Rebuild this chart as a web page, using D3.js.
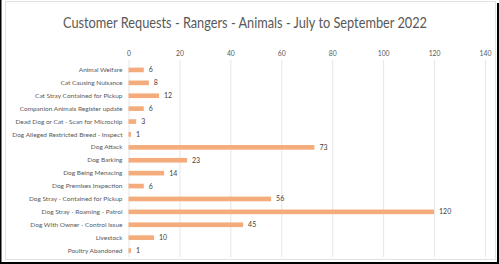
<!DOCTYPE html>
<html lang="en">
<head>
  <meta charset="utf-8">
  <title>Customer Requests - Rangers - Animals</title>
  <style>
    body { margin: 0; background: #fff; }
    svg { display: block; font-family: Lato, "Open Sans", sans-serif; }
  </style>
</head>
<body>
  <script src="https://cdnjs.cloudflare.com/ajax/libs/d3/7.8.5/d3.min.js"></script>
  <script type="text/javascript">
  const categories = [
    "Animal Welfare",
    "Cat Causing Nuisance",
    "Cat Stray Contained for Pickup",
    "Companion Animals Register update",
    "Dead Dog or Cat - Scan for Microchip",
    "Dog Alleged Restricted Breed - Inspect",
    "Dog Attack",
    "Dog Barking",
    "Dog Being Menacing",
    "Dog Premises Inspection",
    "Dog Stray - Contained for Pickup",
    "Dog Stray - Roaming - Patrol",
    "Dog With Owner - Control Issue",
    "Livestock",
    "Poultry Abandoned"
  ];
  const requests = [6, 8, 12, 6, 3, 1, 73, 23, 14, 6, 56, 120, 45, 10, 1];
  const xTicks = [0, 20, 40, 60, 80, 100, 120, 140];

  const W = 499, H = 264;
  const margin = { top: 63.5, right: 14, bottom: 7, left: 128.5 };

  const svg = d3.select("body")
    .append("svg")
    .attr("width", W)
    .attr("height", H);

  // outer frame
  svg.append("rect")
    .attr("x", 0).attr("y", 0)
    .attr("width", W).attr("height", H)
    .attr("fill", "#fff");
  svg.append("rect")
    .attr("x", 5.5).attr("y", 1.5)
    .attr("width", 490).attr("height", 258)
    .attr("fill", "none")
    .attr("stroke", "#e2e2e2");
  svg.append("path")
    .attr("d", `M0.5,0 V${H} M0,${H - 1} H${W} M${W - 1},3 V${H}`)
    .attr("stroke", "#000")
    .attr("stroke-width", 2)
    .attr("fill", "none");

  const x = d3.scaleLinear()
    .domain([0, 140])
    .range([margin.left, 485]);

  const y = d3.scaleBand()
    .domain(categories)
    .range([margin.top, H - margin.bottom])
    .paddingInner(0.64)
    .paddingOuter(0.32);

  // gridlines
  svg.append("g")
    .selectAll("line")
    .data(xTicks)
    .join("line")
    .attr("x1", d => x(d) + 0.5)
    .attr("x2", d => x(d) + 0.5)
    .attr("y1", 60)
    .attr("y2", 257)
    .attr("stroke", "#e6e6e6")
    .attr("stroke-width", 1);

  // top axis
  const xAxis = d3.axisTop(x)
    .tickValues(xTicks)
    .tickSize(0)
    .tickPadding(0);

  svg.append("g")
    .attr("transform", "translate(0, 56)")
    .call(xAxis)
    .call(g => g.select(".domain").remove())
    .call(g => g.selectAll("text")
      .style("fill", "#595959")
      .style("font-size", "6.8px")
      .style("font-family", "Lato, sans-serif"));

  // category axis
  const yAxis = d3.axisLeft(y).tickSize(0).tickPadding(6);
  svg.append("g")
    .attr("transform", `translate(${margin.left}, 0)`)
    .call(yAxis)
    .call(g => g.select(".domain").remove())
    .call(g => g.selectAll("text")
      .style("fill", "#595959")
      .style("font-size", "6.5px")
      .style("font-family", "Lato, sans-serif"));

  // bars
  svg.append("g")
    .selectAll("rect")
    .data(requests)
    .join("rect")
    .attr("x", x(0))
    .attr("y", (d, i) => y(categories[i]))
    .attr("width", d => x(d) - x(0))
    .attr("height", y.bandwidth())
    .attr("fill", "#f4ac7c");

  // value labels
  svg.append("g")
    .selectAll("text")
    .data(requests)
    .join("text")
    .attr("x", d => x(d) + 5)
    .attr("y", (d, i) => y(categories[i]) + y.bandwidth() / 2)
    .attr("dy", "0.35em")
    .style("fill", "#404040")
    .style("font-size", "7px")
    .text(d => d);

  // title
  svg.append("text")
    .attr("x", 245)
    .attr("y", 28)
    .attr("text-anchor", "middle")
    .attr("textLength", 364)
    .attr("lengthAdjust", "spacingAndGlyphs")
    .style("fill", "#595959")
    .style("font-size", "15px")
    .text("Customer Requests - Rangers - Animals - July to September 2022");
  </script>
</body>
</html>
